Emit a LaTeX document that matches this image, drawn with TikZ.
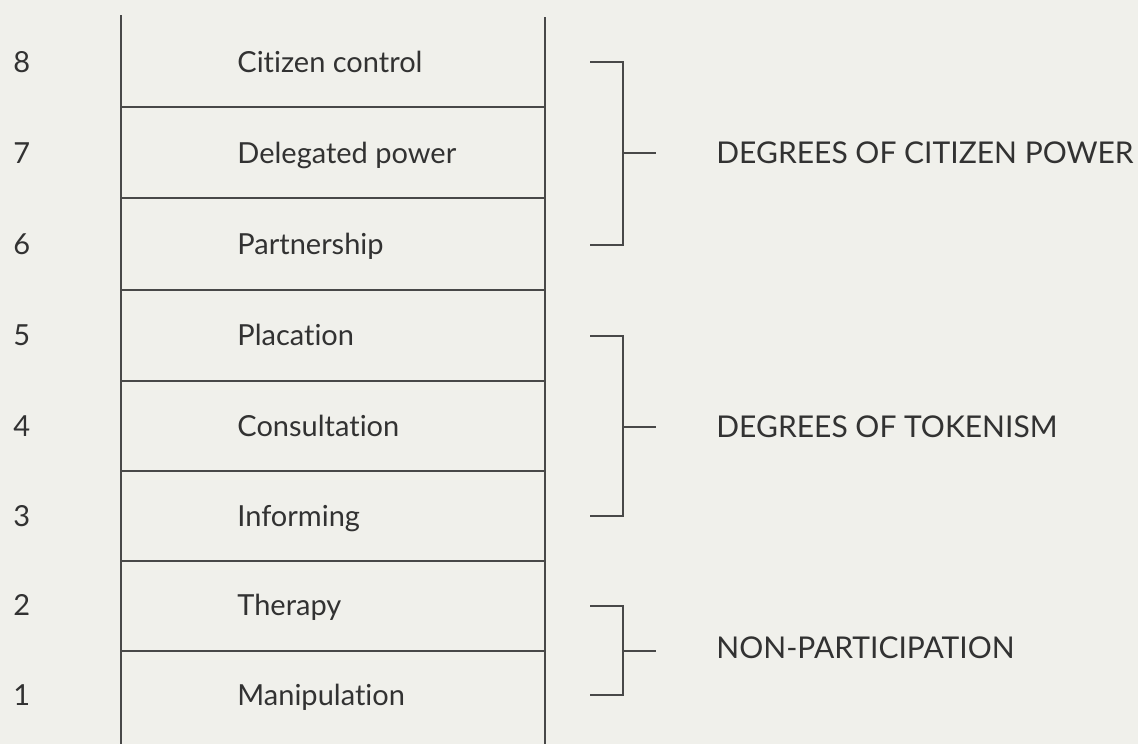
\documentclass[tikz,border=0pt]{standalone}
\usepackage{fontspec}
\setmainfont{Lato}[Ligatures={NoCommon}]
\definecolor{paper}{RGB}{240,240,235}
\definecolor{ink}{RGB}{72,72,72}
\definecolor{type}{RGB}{50,50,50}
\begin{document}
\begin{tikzpicture}[x=0.5pt,y=-0.5pt,
  rail/.style={draw=ink,line width=1pt},
  bracket/.style={draw=ink,line width=0.9pt},
  rungtext/.style={anchor=base west,inner sep=0pt,text=type,font=\fontsize{14.5}{16}\selectfont},
  numtext/.style={anchor=base west,inner sep=0pt,text=type,font=\fontsize{14.5}{16}\selectfont},
  grouptext/.style={anchor=base west,inner sep=0pt,text=type,font=\fontsize{15}{17}\selectfont}]
\fill[paper] (0,0) rectangle (1138,744);
\useasboundingbox (0,0) rectangle (1138,744);

% ladder rails and rungs
\coordinate (LT) at (121,15);
\coordinate (LB) at (121,744);
\coordinate (RT) at (545,17);
\coordinate (RB) at (545,744);
\draw[rail] (LT) -- (LB);
\draw[rail] (RT) -- (RB);
\foreach \i/\y in {1/107,2/198,3/290,4/381,5/471,6/561,7/651}{
  \coordinate (L\i) at (121,\y);
  \coordinate (R\i) at (545,\y);
  \draw[rail] (L\i) -- (R\i);
}

% rung numbers and names
\foreach \n/\y/\t in {8/72/Citizen control,7/163/Delegated power,6/254/Partnership,
  5/345/Placation,4/436/Consultation,3/526/Informing,2/615/Therapy,1/705/Manipulation}{
  \node[numtext] (n\n) at (13,\y) {\n};
  \node[rungtext] (s\n) at (237,\y) {\t};
}

% group brackets
\foreach \g/\top/\mid/\bot in {1/62/153/245,2/336/427/516,3/606/651/695}{
  \coordinate (bt\g) at (590,\top);
  \coordinate (bb\g) at (590,\bot);
  \coordinate (bm\g) at (623,\mid);
  \coordinate (tk\g) at (656,\mid);
  \draw[bracket] (bt\g) -| (bm\g) |- (bb\g);
  \draw[bracket] (bm\g) -- (tk\g);
}
\node[grouptext] (g1) at (716,163) {DEGREES OF CITIZEN POWER};
\node[grouptext] (g2) at (716,437) {DEGREES OF TOKENISM};
\node[grouptext] (g3) at (716,658) {NON-PARTICIPATION};
\end{tikzpicture}
\end{document}
